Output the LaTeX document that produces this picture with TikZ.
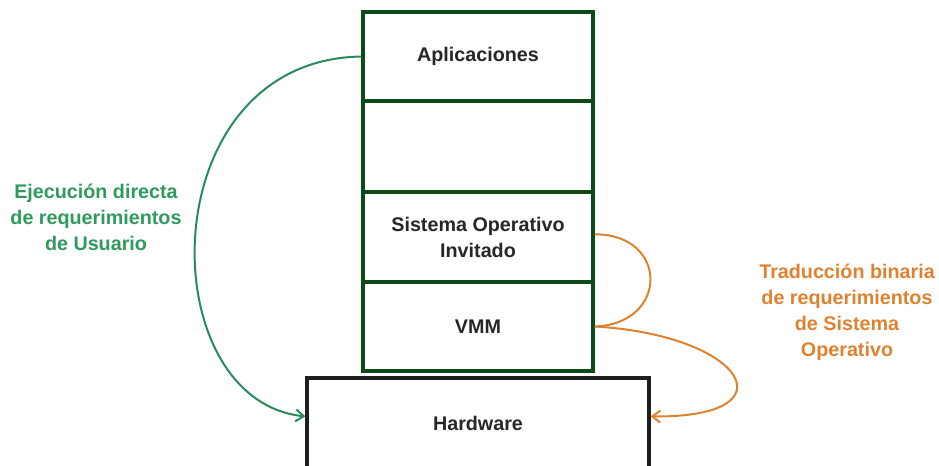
\documentclass[tikz,border=0pt]{standalone}
\usepackage{fontspec}
\setmainfont{Liberation Sans}
\usetikzlibrary{arrows.meta}
\definecolor{boxgreen}{HTML}{0E4A17}
\definecolor{arrowgreen}{HTML}{2A8A5C}
\definecolor{txtgreen}{HTML}{2E9A5E}
\definecolor{orangec}{HTML}{DF8230}
\definecolor{hwblack}{HTML}{1E1E1E}
\begin{document}
\begin{tikzpicture}[x=0.75pt,y=-0.75pt,
  cell/.style={draw=boxgreen, line width=2.6pt, minimum width=172.5pt, minimum height=67.5pt, inner sep=0pt, align=center, text=black!85, font=\bfseries\fontsize{14.8}{19.5}\selectfont},
  hwbox/.style={draw=hwblack, line width=2.4pt, minimum width=256.5pt, minimum height=90pt, inner sep=0pt},
  txt/.style={text=black!85, font=\bfseries\fontsize{14.8}{19.5}\selectfont},
  lbl/.style={align=center, font=\bfseries\fontsize{14.8}{19.5}\selectfont},
  garrow/.style={draw=arrowgreen, line width=1.5pt, -{Straight Barb[length=6pt,width=9pt]}},
  oarrow/.style={draw=orangec, line width=1.5pt},
  oarrowtip/.style={draw=orangec, line width=1.5pt, -{Straight Barb[length=6pt,width=9pt]}}]
\useasboundingbox (0,0) rectangle (939,465);
\begin{scope}
\clip (0,0) rectangle (939,465);
\node[hwbox] (hw) at (478,438) {};
\end{scope}
\node[txt] (hwtxt) at (478,423) {Hardware};
\node[cell, minimum height=66.75pt] (app) at (478,56.5) {Aplicaciones};
\node[cell, minimum height=68.25pt] (empty) at (478,146.5) {};
\node[cell] (so) at (478,237) {Sistema Operativo\\Invitado};
\node[cell, minimum height=66.75pt] (vmm) at (478,326.5) {VMM};
\node[lbl, text=txtgreen] (glbl) at (96,217) {Ejecución directa\\de requerimientos\\de Usuario};
\node[lbl, text=orangec] (olbl) at (847,312) {Traducción binaria\\de requerimientos\\de Sistema\\Operativo};
\draw[garrow] (app.west) .. controls (150,60) and (150,400) .. ([yshift=-30pt]hw.north west);
\draw[oarrow] ([yshift=2pt]so.east) .. controls (669,234) and (669,324) .. (vmm.east);
\draw[oarrowtip] (vmm.east) .. controls (745,335) and (795,418) .. ([yshift=-30pt]hw.north east);
\end{tikzpicture}
\end{document}
